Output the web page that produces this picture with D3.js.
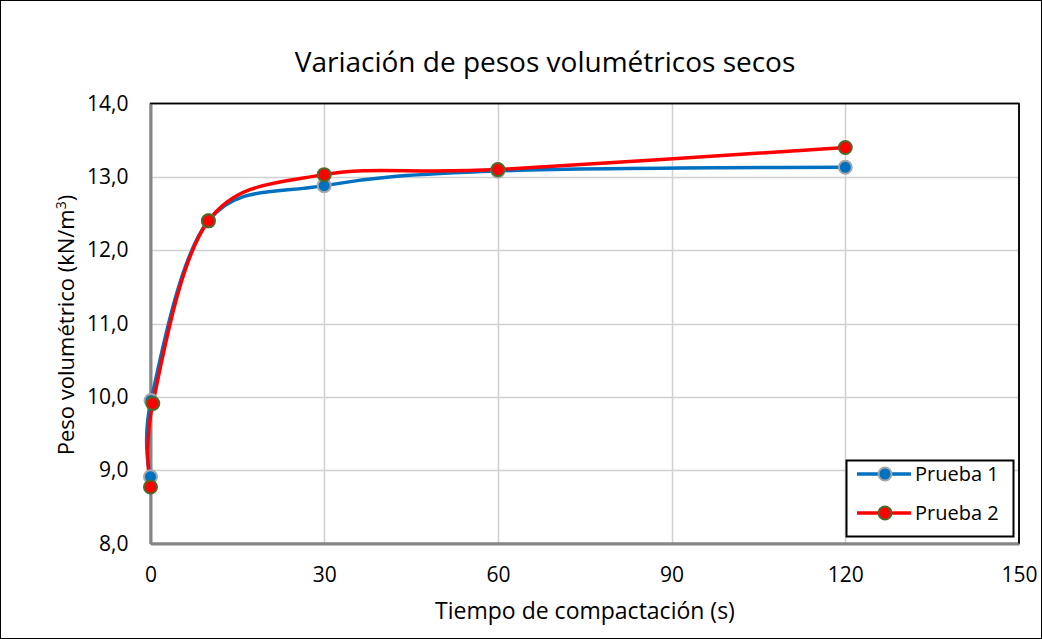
<!DOCTYPE html>
<html><head><meta charset="utf-8">
<script src="https://cdn.jsdelivr.net/npm/d3@7"></script>
<style>body{margin:0;background:#fff}svg{display:block}text{font-family:"Open Sans","Noto Sans",sans-serif;fill:#000}</style>
</head><body>
<svg id="c" width="1042" height="639"></svg>
<script>
const title = "Variación de pesos volumétricos secos";
const xTitle = "Tiempo de compactación (s)";
const yTitle = "Peso volumétrico (kN/m";
const xTicks = [0, 30, 60, 90, 120, 150];
const yTicks = [8, 9, 10, 11, 12, 13, 14];
const seriesNames = ["Prueba 1", "Prueba 2"];
const p1x = [0, 0.1, 10, 30, 60, 120];
const p1y = [8.91, 9.95, 12.40, 12.88, 13.08, 13.13];
const p2x = [0, 0.4, 10, 30, 60, 120];
const p2y = [8.77, 9.91, 12.40, 13.03, 13.10, 13.40];

const svg = d3.select("#c");
const W = 1042, H = 639;
const L = 150.5, R = 1019, T = 103.5, B = 543.5;
const x = d3.scaleLinear().domain([0, 150]).range([L, R]);
const y = d3.scaleLinear().domain([8, 14]).range([B, T]);

svg.append("rect").attr("x", 0.5).attr("y", 0.5).attr("width", W - 1).attr("height", H - 1)
  .attr("fill", "#fff").attr("stroke", "#000").attr("stroke-width", 1);

// gridlines
svg.append("g").selectAll("line").data(yTicks.slice(1, -1)).join("line")
  .attr("x1", L).attr("x2", R).attr("y1", d => Math.round(y(d)) + 0.5).attr("y2", d => Math.round(y(d)) + 0.5)
  .attr("stroke", "#d0d0d0").attr("stroke-width", 1.5);
svg.append("g").selectAll("line").data(xTicks.slice(1, -1)).join("line")
  .attr("y1", T).attr("y2", B).attr("x1", d => Math.round(x(d)) + 0.5).attr("x2", d => Math.round(x(d)) + 0.5)
  .attr("stroke", "#d0d0d0").attr("stroke-width", 1.5);

// plot border
svg.append("rect").attr("x", L).attr("y", T).attr("width", R - L).attr("height", B - T)
  .attr("fill", "none").attr("stroke", "#000").attr("stroke-width", 1.5);
// axes (gray)
const ax = d3.axisBottom(x).tickValues(xTicks).tickSize(0).tickPadding(24).tickFormat(d3.format("d"));
const gx = svg.append("g").attr("transform", `translate(0,${B})`).call(ax);
gx.select(".domain").attr("stroke", "#868686").attr("stroke-width", 3);
gx.selectAll("text").style("font-size", "21px").attr("dy", "0.71em");
const ay = d3.axisLeft(y).tickValues(yTicks).tickSize(0).tickPadding(22).tickFormat(d => d3.format(".1f")(d).replace(".", ","));
const gy = svg.append("g").attr("transform", `translate(${L},0)`).call(ay);
gy.select(".domain").attr("stroke", "#868686").attr("stroke-width", 3);
gy.selectAll("text").style("font-size", "21px");
svg.append("line").attr("x1", L).attr("x2", R).attr("y1", T).attr("y2", T).attr("stroke", "#000").attr("stroke-width", 1.5);
svg.append("line").attr("x1", R).attr("x2", R).attr("y1", T).attr("y2", B).attr("stroke", "#000").attr("stroke-width", 1.5);

// lines
const line = d3.line().x(d => x(d[0])).y(d => y(d[1])).curve(d3.curveCardinal.tension(0));
const s1 = p1x.map((v, i) => [v, p1y[i]]);
const s2 = p2x.map((v, i) => [v, p2y[i]]);
const styles = [
  {line: "#0070C0", fill: "#0070C0", stroke: "#a6a6a6"},
  {line: "#FF0000", fill: "#FF0000", stroke: "#4a6b2a"}
];
[s1, s2].forEach((s, i) => {
  svg.append("path").datum(s).attr("d", line).attr("fill", "none")
    .attr("stroke", styles[i].line).attr("stroke-width", 3.5);
});
[s1, s2].forEach((s, i) => {
  svg.append("g").selectAll("circle").data(s).join("circle")
    .attr("cx", d => x(d[0])).attr("cy", d => y(d[1])).attr("r", 6.5)
    .attr("fill", styles[i].fill).attr("stroke", styles[i].stroke).attr("stroke-width", 2);
});

// title
svg.append("text").attr("x", 545).attr("y", 72).attr("text-anchor", "middle")
  .style("font-size", "28px").text(title);
svg.append("text").attr("x", 585).attr("y", 619).attr("text-anchor", "middle")
  .style("font-size", "23px").text(xTitle);
const yt = svg.append("text").attr("transform", "translate(74,325) rotate(-90)").attr("text-anchor", "middle")
  .style("font-size", "22px");
yt.append("tspan").text(yTitle);
yt.append("tspan").attr("dy", -8).style("font-size", "14px").text("3");
yt.append("tspan").attr("dy", 8).text(")");

// legend
const lg = svg.append("g");
lg.append("rect").attr("x", 846.5).attr("y", 460.5).attr("width", 167).attr("height", 76)
  .attr("fill", "#fff").attr("stroke", "#000").attr("stroke-width", 2);
seriesNames.forEach((n, i) => {
  const yy = 474 + i * 39;
  lg.append("line").attr("x1", 857).attr("x2", 911).attr("y1", yy).attr("y2", yy)
    .attr("stroke", styles[i].line).attr("stroke-width", 3.5);
  lg.append("circle").attr("cx", 885).attr("cy", yy).attr("r", 6.5)
    .attr("fill", styles[i].fill).attr("stroke", styles[i].stroke).attr("stroke-width", 2);
  lg.append("text").attr("x", 915).attr("y", yy).attr("dy", "0.35em").style("font-size", "20px").text(n);
});
</script>
</body></html>
